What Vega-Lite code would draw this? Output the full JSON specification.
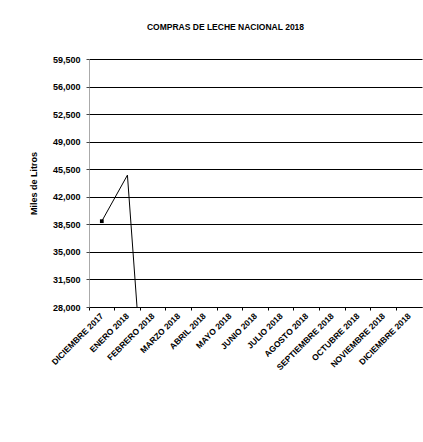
{
  "$schema": "https://vega.github.io/schema/vega-lite/v6.json",
  "width": 333,
  "height": 248,
  "autosize": {"type": "none"},
  "padding": {"left": 89, "top": 59, "right": 1, "bottom": 135},
  "background": "white",
  "config": {
    "view": {"stroke": null},
    "font": "Liberation Sans"
  },
  "title": {
    "text": "COMPRAS DE LECHE NACIONAL 2018",
    "fontSize": 8.5,
    "fontWeight": "bold",
    "font": "Liberation Sans",
    "color": "black",
    "anchor": "middle",
    "dx": -30,
    "offset": 24
  },
  "data": {
    "values": [
      {"mes": "DICIEMBRE 2017", "miles": 38900},
      {"mes": "ENERO 2018", "miles": 44750},
      {"mes": "FEBRERO 2018", "miles": 0},
      {"mes": "MARZO 2018", "miles": null},
      {"mes": "ABRIL 2018", "miles": null},
      {"mes": "MAYO 2018", "miles": null},
      {"mes": "JUNIO 2018", "miles": null},
      {"mes": "JULIO 2018", "miles": null},
      {"mes": "AGOSTO 2018", "miles": null},
      {"mes": "SEPTIEMBRE 2018", "miles": null},
      {"mes": "OCTUBRE 2018", "miles": null},
      {"mes": "NOVIEMBRE 2018", "miles": null},
      {"mes": "DICIEMBRE 2018", "miles": null}
    ]
  },
  "encoding": {
    "x": {
      "field": "mes",
      "type": "nominal",
      "sort": null,
      "scale": {"type": "band", "paddingInner": 0, "paddingOuter": 0},
      "axis": {
        "title": null,
        "labelAngle": -45,
        "labelAlign": "right",
        "labelBaseline": "middle",
        "labelFontSize": 8.5,
        "labelFontWeight": "bold",
        "labelColor": "black",
        "labelPadding": 4,
        "bandPosition": 0,
        "labelOffset": 0,
        "ticks": true,
        "tickSize": 3,
        "tickColor": "black",
        "domainColor": "black",
        "grid": false,
        "labelOverlap": false
      }
    },
    "y": {
      "field": "miles",
      "type": "quantitative",
      "scale": {"domain": [28000, 59500], "nice": false, "zero": false},
      "axis": {
        "title": "Miles de Litros",
        "titleAngle": -90,
        "titleFontSize": 9,
        "titleFontWeight": "bold",
        "titleColor": "black",
        "titlePadding": 14,
        "values": [28000, 31500, 35000, 38500, 42000, 45500, 49000, 52500, 56000, 59500],
        "format": ",.0f",
        "labelFontSize": 9,
        "labelFontWeight": "bold",
        "labelColor": "black",
        "labelPadding": 6,
        "tickSize": 3,
        "tickColor": "#444",
        "domainColor": "#555",
        "domainDash": [1, 1],
        "grid": true,
        "gridColor": "black",
        "gridWidth": 1,
        "gridOpacity": 1
      }
    }
  },
  "layer": [
    {
      "mark": {"type": "line", "color": "black", "strokeWidth": 1, "clip": true}
    },
    {
      "transform": [{"filter": "datum.mes === 'DICIEMBRE 2017'"}],
      "mark": {"type": "square", "color": "black", "size": 14, "filled": true, "opacity": 1, "clip": true}
    }
  ]
}
